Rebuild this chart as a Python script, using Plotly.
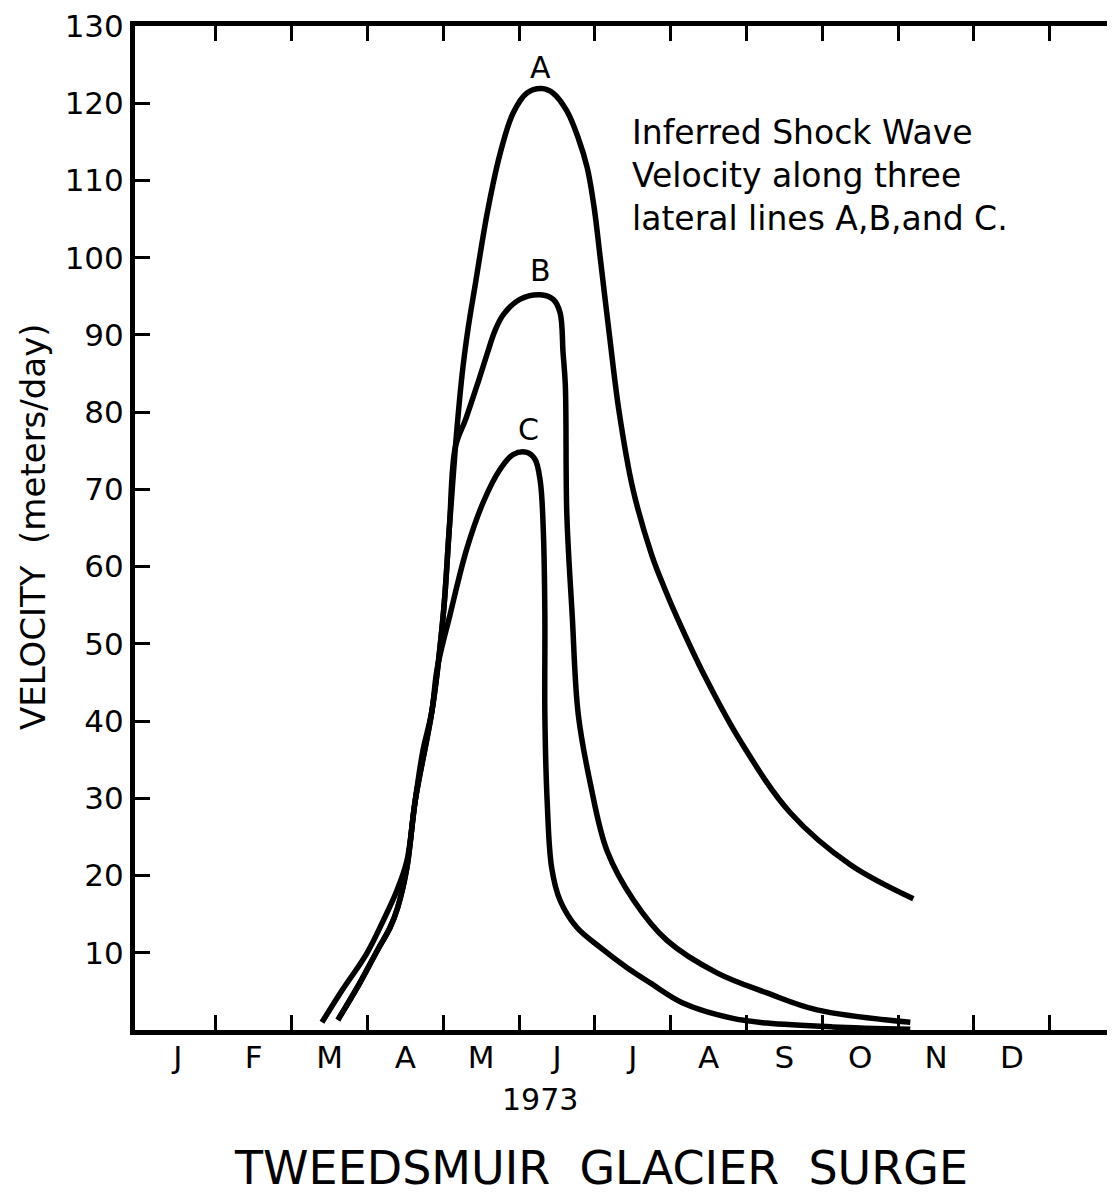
import plotly.graph_objects as go

# months since 1 Jan 1973, velocity in meters/day
a_month = [2.40, 2.67, 2.99, 3.21, 3.39, 3.52, 3.63, 3.73, 3.85, 4.00, 4.08, 4.16, 4.25,
           4.33, 4.42, 4.58, 4.75, 4.92, 5.10, 5.30, 5.45, 5.63, 5.78, 5.90, 5.99, 6.07,
           6.19, 6.32, 6.50, 6.75, 6.91, 7.08, 7.45, 7.92, 8.58, 9.37, 10.20]
a_vel = [1.0, 5.2, 9.9, 14.2, 18.1, 21.9, 29.7, 36.1, 41.3, 53.8, 65.0, 75.5, 85.0,
         91.0, 96.4, 105.8, 113.5, 118.7, 121.3, 121.9, 121.3, 119.0, 115.5, 111.6, 106.5, 100.0,
         90.1, 80.0, 70.1, 61.5, 57.4, 53.5, 45.8, 37.4, 28.1, 21.4, 17.0]

b_month = [2.61, 2.90, 3.13, 3.30, 3.40, 3.52, 3.63, 3.85, 4.00, 4.08, 4.16, 4.30, 4.46,
           4.58, 4.68, 4.79, 5.01, 5.28, 5.45, 5.54, 5.58, 5.61, 5.63, 5.70, 5.78, 5.94, 6.16,
           6.51, 6.95, 7.61, 8.27, 8.93, 10.16]
b_vel = [1.3, 6.1, 10.3, 13.3, 15.9, 21.0, 29.7, 41.3, 53.8, 65.0, 75.5, 79.2, 83.9,
         87.6, 90.5, 92.6, 94.6, 95.2, 94.6, 92.9, 87.7, 83.5, 66.7, 53.8, 40.9, 31.9, 23.2,
         16.8, 11.6, 7.4, 4.8, 2.6, 1.0]

c_month = [2.61, 2.90, 3.13, 3.30, 3.40, 3.52, 3.63, 3.85, 3.92, 4.09, 4.31, 4.53, 4.75,
           4.92, 5.10, 5.21, 5.28, 5.32, 5.34, 5.34, 5.37, 5.43, 5.54, 5.76, 6.07, 6.42,
           6.73, 7.16, 7.82, 8.27, 9.14, 10.16]
c_vel = [1.3, 6.1, 10.3, 13.3, 15.9, 21.0, 29.7, 41.3, 46.8, 53.8, 62.3, 68.4, 72.6,
         74.5, 74.8, 73.9, 71.0, 64.5, 53.8, 40.9, 29.7, 21.0, 16.8, 13.3, 10.7, 8.1,
         6.1, 3.5, 1.5, 0.9, 0.4, 0.1]

month_labels = ["J", "F", "M", "A", "M", "J", "J", "A", "S", "O", "N", "D"]
month_centers = [i + 0.5 for i in range(12)]
month_bounds = list(range(1, 13))
y_ticks = list(range(10, 140, 10))

FONT = "DejaVu Sans"

fig = go.Figure()
for name, xs, ys in [("A", a_month, a_vel), ("B", b_month, b_vel), ("C", c_month, c_vel)]:
    fig.add_trace(go.Scatter(x=xs, y=ys, mode="lines", name=name,
                             line=dict(color="black", width=5.5, shape="spline", smoothing=1.0)))

# the page body adds an 8px offset, so the figure is 8px smaller than the window
x_range = [-0.066, 12.86]
y_range = [0, 130]
fig.update_layout(
    width=1107, height=1187,
    margin=dict(l=127, r=0, t=14, b=165),
    paper_bgcolor="white", plot_bgcolor="white",
    showlegend=False,
    font=dict(family=FONT, color="black", size=30),
    xaxis=dict(range=x_range, tickvals=month_centers, ticktext=month_labels,
               ticks="", showline=False, showgrid=False, zeroline=False,
               tickfont=dict(size=31), ticklabelstandoff=6),
    xaxis2=dict(overlaying="x", matches="x", range=x_range, tickvals=month_bounds,
                showticklabels=False, ticks="inside", ticklen=15, tickwidth=2.5,
                tickcolor="black", showline=True, linewidth=5, linecolor="black",
                mirror="ticks", showgrid=False, zeroline=False),
    yaxis=dict(range=y_range, tickvals=y_ticks, ticks="inside", ticklen=15,
               tickwidth=2.5, tickcolor="black", showline=True, linewidth=5,
               linecolor="black", showgrid=False, zeroline=False,
               ticklabeloverflow="allow", tickfont=dict(size=31)),
    yaxis2=dict(overlaying="y", matches="y", side="right", range=y_range,
                tickvals=y_ticks[:-1], ticks="inside", ticklen=8, tickwidth=2.5,
                tickcolor="black", showline=False, showticklabels=False,
                showgrid=False, zeroline=False),
)
# dummy trace so the overlay axes are drawn
fig.add_trace(go.Scatter(x=[None], y=[None], xaxis="x2", yaxis="y2", showlegend=False))

for label, xm, yv in [("A", 5.28, 124.6), ("B", 5.28, 98.3), ("C", 5.12, 77.7)]:
    fig.add_annotation(x=xm, y=yv, text=label, showarrow=False,
                       font=dict(size=30, family=FONT))

fig.add_annotation(x=6.46, y=119.0, xanchor="left", yanchor="top", align="left",
                   text="Inferred Shock Wave<br>Velocity along three<br>lateral lines A,B,and C.",
                   showarrow=False, font=dict(size=33, family=FONT))

fig.add_annotation(xref="paper", yref="paper", x=-0.104, y=0.501, textangle=-90,
                   xanchor="center", yanchor="middle",
                   text="VELOCITY  (meters/day)", showarrow=False,
                   font=dict(size=34, family=FONT))

fig.add_annotation(xref="paper", yref="paper", x=0.413, y=-0.0694, text="1973",
                   xanchor="center", yanchor="middle",
                   showarrow=False, font=dict(size=30, family=FONT))

fig.add_annotation(xref="paper", yref="paper", x=0.4755, y=-0.137,
                   xanchor="center", yanchor="middle",
                   text="TWEEDSMUIR  GLACIER  SURGE", showarrow=False,
                   font=dict(size=46, family=FONT))

fig.write_html("out.html")
